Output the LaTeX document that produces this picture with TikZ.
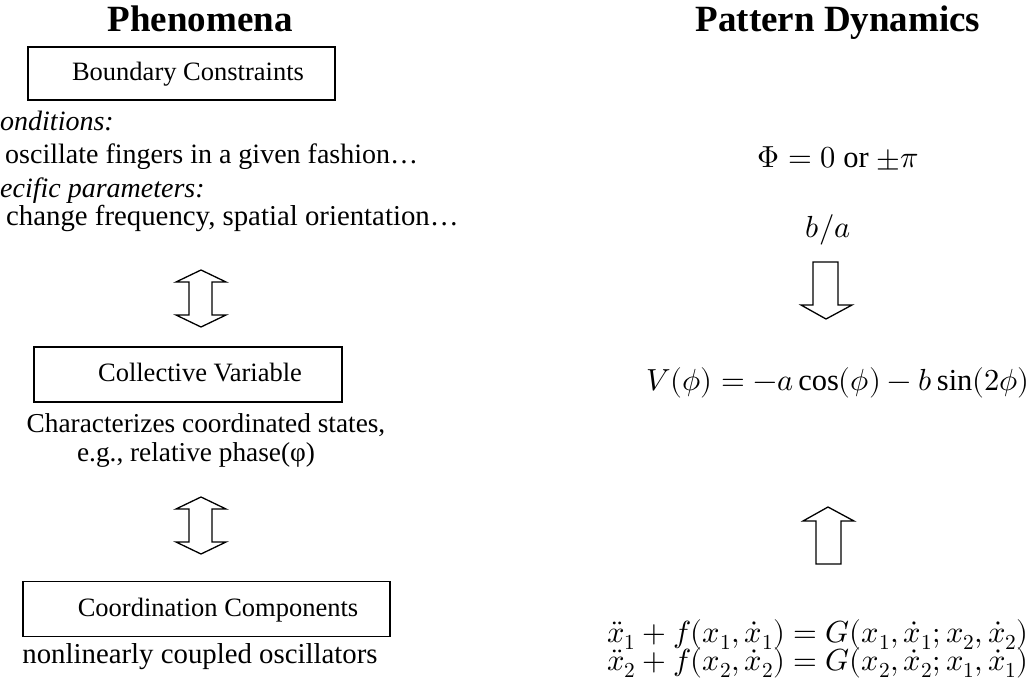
\documentclass[tikz,border=0pt]{standalone}
\usepackage{unicode-math}
\setmainfont{Liberation Serif}
\begin{document}
\begin{tikzpicture}[x=1pt,y=-1pt,
  box/.style={draw, line width=1.4pt, inner sep=0pt, text height=19pt, text depth=5pt,
      font=\fontsize{26.5}{30}\selectfont},
  body/.style={inner sep=0pt, font=\fontsize{28}{32}\selectfont},
  ttl/.style={anchor=base, inner sep=0pt, font=\fontsize{37}{40}\selectfont\bfseries},
  blk/.style={draw, line width=1.3pt, line join=miter},
  mth/.style={inner sep=0pt, font=\fontsize{30.5}{36}\selectfont},
  dblarrow/.pic={\draw[blk] (0,0) -- (25,12) -- (11,12) -- (11,45) -- (25,45) -- (0,57)
      -- (-25,45) -- (-12,45) -- (-12,12) -- (-25,12) -- cycle;},
  downarrow/.pic={\draw[blk] (-13,0) -- (12,0) -- (12,43) -- (26,43) -- (0,57)
      -- (-25,43) -- (-13,43) -- cycle;},
  uparrow/.pic={\draw[blk] (0,0) -- (26,14) -- (13,14) -- (13,57) -- (-12,57)
      -- (-12,14) -- (-25,14) -- cycle;}]
\useasboundingbox (0,0) rectangle (1033,682);
% titles
\node[ttl] (tphen) at (200,32) {Phenomena};
\node[ttl] (tpat) at (838,32) {Pattern Dynamics};
% boxes
\node[box, minimum width=307pt, minimum height=53pt] (b1) at (181.5,73.5) {\hspace*{13pt}Boundary Constraints};
\node[box, minimum width=308pt, minimum height=55pt] (b2) at (188,374.5) {\hspace*{24pt}Collective Variable};
\node[box, minimum width=367pt, minimum height=55pt] (b3) at (206.5,609) {\hspace*{23pt}Coordination Components};
% left texts
\node[body, anchor=base west] (c1) at (0,131) {\itshape onditions:};
\node[body, anchor=base west] (c2) at (5,164) {oscillate fingers in a given fashion…};
\node[body, anchor=base west] (c3) at (0,197) {\itshape ecific parameters:};
\node[body, anchor=base west, font=\fontsize{28.8}{32}\selectfont] (c4) at (6,225) {change frequency, spatial orientation…};
\node[body, anchor=base, font=\fontsize{27.3}{32}\selectfont] (cv1) at (206,432) {Characterizes coordinated states,};
\node[body, anchor=base, font=\fontsize{27.3}{32}\selectfont] (cv2) at (196,461) {e.g., relative phase(φ)};
\node[body, anchor=base, font=\fontsize{28.8}{32}\selectfont] (cc1) at (200,663) {nonlinearly coupled oscillators};
% block arrows left
\pic (da1) at (201,270) {dblarrow};
\pic (da2) at (201,497) {dblarrow};
% right column
\node[mth, anchor=base] (phi) at (838,167) {$\Phi = 0$ or $\pm\pi$};
\node[mth, anchor=base] (ba) at (828,237) {$b/a$};
\pic (ra1) at (826,262) {downarrow};
\node[mth, anchor=base east] (veq) at (1030,390) {$V(\phi) = -a\cos(\phi) - b\sin(2\phi)$};
\pic (ra2) at (828,507) {uparrow};
\node[mth, anchor=base east] (eq1) at (1029,642) {$\ddot{x}_1 + f(x_1,\dot{x}_1) = G(x_1,\dot{x}_1; x_2,\dot{x}_2)$};
\node[mth, anchor=base east] (eq2) at (1029,670) {$\ddot{x}_2 + f(x_2,\dot{x}_2) = G(x_2,\dot{x}_2; x_1,\dot{x}_1)$};
\end{tikzpicture}
\end{document}
